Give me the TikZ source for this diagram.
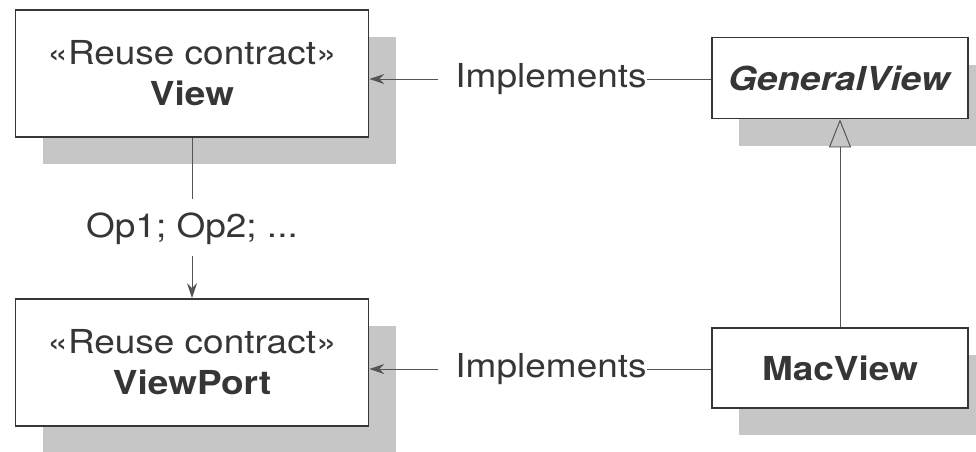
\documentclass[tikz,border=0pt]{standalone}
\usepackage{fontspec}
\setmainfont{TeX Gyre Heros}[FakeStretch=1.12]
\usetikzlibrary{arrows.meta,shadows}
\definecolor{ink}{HTML}{363636}
\definecolor{shade}{HTML}{C6C6C6}
\begin{document}
\begin{tikzpicture}[x=1pt,y=-1pt,
  box/.style={draw=ink, line width=1.6pt, fill=white, text=ink, align=center,
    inner sep=0pt, font=\fontsize{33}{41}\selectfont,
    drop shadow={shadow xshift=27pt, shadow yshift=-27pt, fill=shade, opacity=1}},
  lbl/.style={text=ink, inner sep=0pt, font=\fontsize{33}{41}\selectfont},
  conn/.style={draw=ink!85, line width=1pt},
  tip/.style={-{Stealth[length=15pt,width=10pt]}},
  inherit/.style={-{Triangle[open,length=28pt,width=22pt]}}]
\useasboundingbox (0,0) rectangle (976,451);
\node[box, minimum width=353pt, minimum height=127pt] (View) at (192,73.5)
  {«Reuse contract»\\\textbf{View}};
\node[box, minimum width=353pt, minimum height=127pt] (ViewPort) at (192,362.5)
  {«Reuse contract»\\\textbf{ViewPort}};
\node[box, minimum width=256pt, minimum height=81pt] (GeneralView) at (840,78)
  {\textbf{\textit{GeneralView}}};
\node[box, minimum width=256pt, minimum height=80pt] (MacView) at (840,368)
  {\textbf{MacView}};
\node[lbl] (impl1) at (551,79) {Implements};
\node[lbl] (impl2) at (551,369) {Implements};
\node[lbl] (ops) at (192,229) {Op1; Op2; ...};
\draw[conn] (impl1.east) -- (impl1.east -| GeneralView.west);
\draw[conn, tip, shorten <=17pt] (impl1.west) -- (impl1.west -| View.east);
\draw[conn] (impl2.east) -- (impl2.east -| MacView.west);
\draw[conn, tip, shorten <=17pt] (impl2.west) -- (impl2.west -| ViewPort.east);
\draw[conn, shorten >=14pt] (View.south) -- (ops.north);
\draw[conn, tip, shorten <=11pt] (ops.south) -- (ViewPort.north);
\draw[conn, inherit] (MacView.north) -- (GeneralView.south);
\end{tikzpicture}
\end{document}
